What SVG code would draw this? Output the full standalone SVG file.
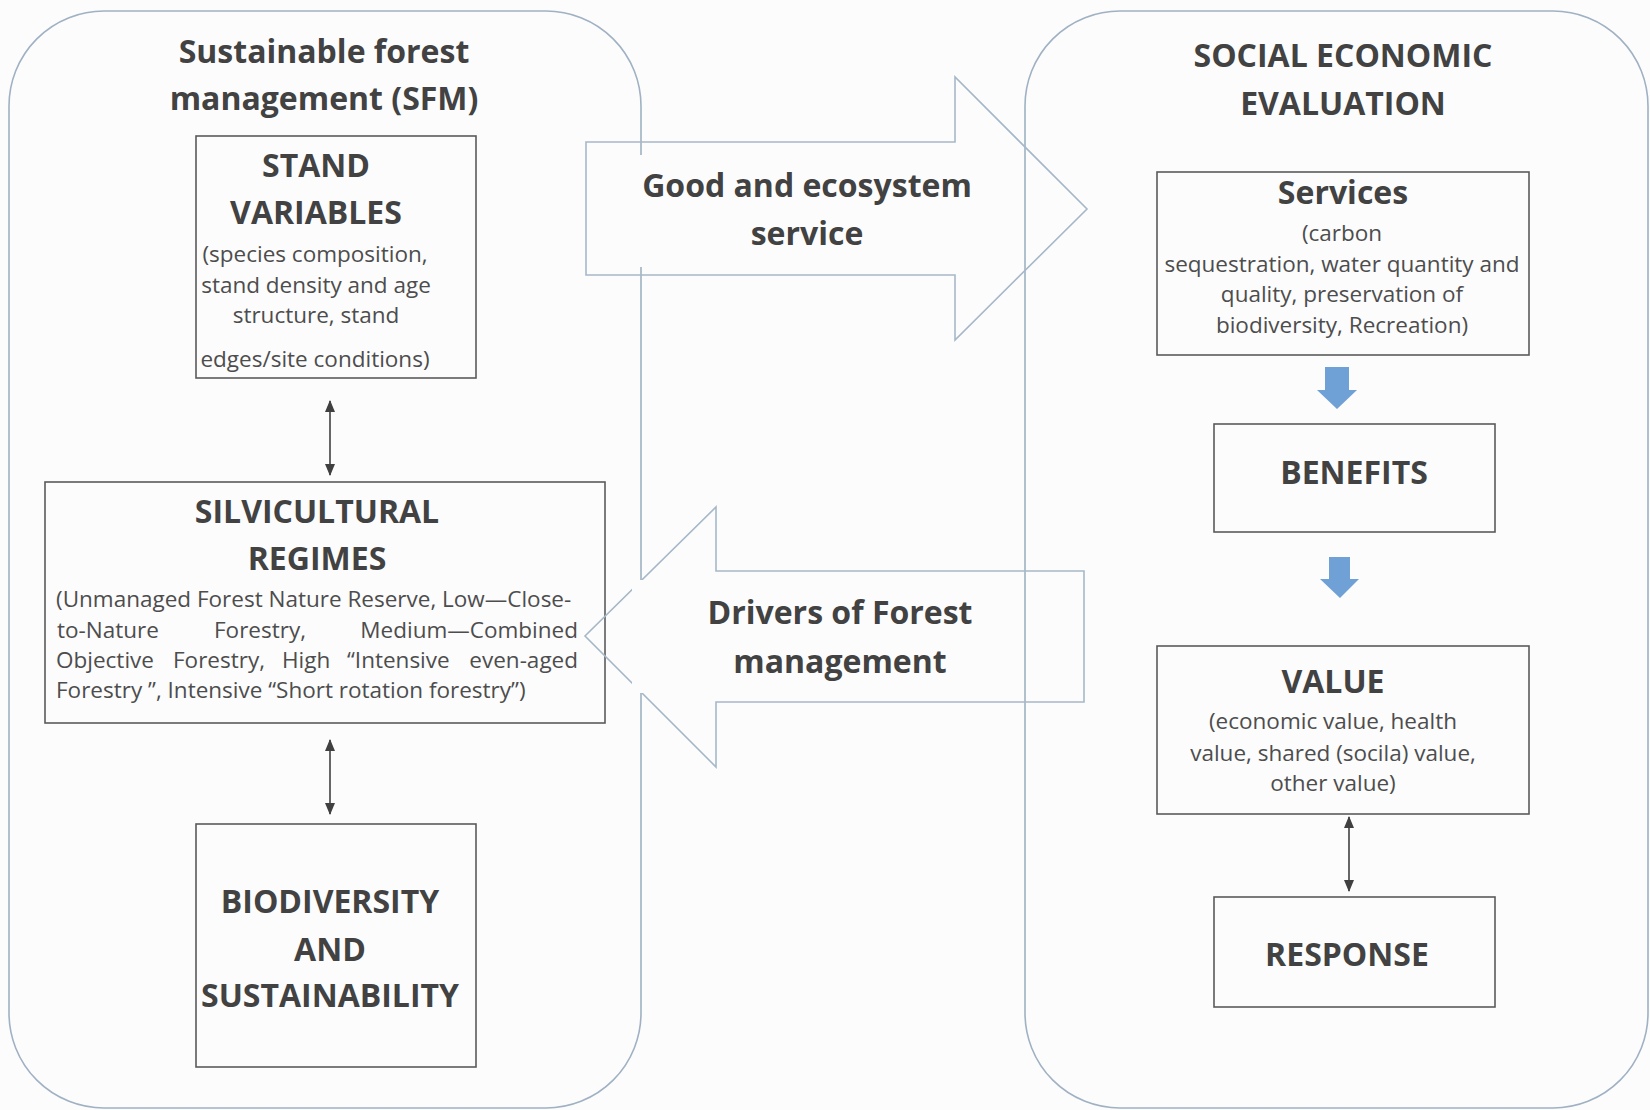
<svg xmlns="http://www.w3.org/2000/svg" width="1650" height="1110" viewBox="0 0 1650 1110">
<defs>
<style>
.cont{fill:none;stroke:#9fb1c2;stroke-width:1.6}
.box{fill:none;stroke:#5a5a5a;stroke-width:1.6}
.bigarrow{fill:none;stroke:#a6b8c8;stroke-width:1.6}
.h{font-family:"Open Sans","Liberation Sans",sans-serif;font-weight:700;font-size:32px;fill:#424242;text-anchor:middle}
.s{font-family:"Open Sans","Liberation Sans",sans-serif;font-size:22.5px;fill:#4d4d4d;text-anchor:middle}
.j{font-family:"Open Sans","Liberation Sans",sans-serif;font-size:22.5px;fill:#4d4d4d}
.dbl{stroke:#404040;stroke-width:1.6;fill:none;marker-start:url(#ah);marker-end:url(#ah)}
.blue{fill:#6fa0d6}
.gap{fill:#fcfcfd}
</style>
<marker id="ah" viewBox="0 0 12 10" refX="11" refY="5" markerWidth="12" markerHeight="10" markerUnits="userSpaceOnUse" orient="auto-start-reverse">
<path d="M0,0 L12,5 L0,10 z" fill="#404040"/>
</marker>
</defs>
<rect width="1650" height="1110" fill="#fcfcfd"/>

<g id="sfm-container">
<rect class="cont" x="9" y="11" width="632" height="1097" rx="95" ry="95"/>
<text class="h"><tspan x="324" y="63">Sustainable forest</tspan><tspan x="324" y="110">management (SFM)</tspan></text>
</g>

<g id="see-container">
<rect class="cont" x="1025" y="11" width="623" height="1097" rx="95" ry="95"/>
<text class="h"><tspan x="1343" y="67">SOCIAL ECONOMIC</tspan><tspan x="1343" y="115">EVALUATION</tspan></text>
</g>

<g id="stand-variables">
<rect class="box" x="196" y="136" width="280" height="242"/>
<text class="h"><tspan x="316" y="177">STAND</tspan><tspan x="316" y="224">VARIABLES</tspan></text>
<text class="s"><tspan x="315" y="262">(species composition,</tspan><tspan x="316" y="293">stand density and age</tspan><tspan x="316" y="323">structure, stand</tspan><tspan x="315" y="367">edges/site conditions)</tspan></text>
</g>

<g id="silvicultural-regimes">
<rect class="box" x="45" y="482" width="560" height="241"/>
<text class="h"><tspan x="317" y="523">SILVICULTURAL</tspan><tspan x="317" y="570">REGIMES</tspan></text>
<text class="j"><tspan x="56" y="607">(Unmanaged Forest Nature Reserve, Low—Close-</tspan></text>
<text class="j"><tspan x="57" y="638">to-Nature</tspan><tspan x="214" y="638">Forestry,</tspan><tspan x="578" y="638" text-anchor="end">Medium—Combined</tspan></text>
<text class="j"><tspan x="56" y="668">Objective</tspan><tspan x="173" y="668">Forestry,</tspan><tspan x="282" y="668">High</tspan><tspan x="347" y="668">“Intensive</tspan><tspan x="578" y="668" text-anchor="end">even-aged</tspan></text>
<text class="j"><tspan x="56" y="698">Forestry ”, Intensive “Short rotation forestry”)</tspan></text>
</g>

<g id="biodiversity">
<rect class="box" x="196" y="824" width="280" height="243"/>
<text class="h"><tspan x="330" y="913">BIODIVERSITY</tspan><tspan x="330" y="961">AND</tspan><tspan x="330" y="1007">SUSTAINABILITY</tspan></text>
</g>

<g id="services">
<rect class="box" x="1157" y="172" width="372" height="183"/>
<text class="h"><tspan x="1343" y="204">Services</tspan></text>
<text class="s"><tspan x="1342" y="241">(carbon</tspan><tspan x="1342" y="272">sequestration, water quantity and</tspan><tspan x="1342" y="302">quality, preservation of</tspan><tspan x="1342" y="333">biodiversity, Recreation)</tspan></text>
</g>

<g id="benefits">
<rect class="box" x="1214" y="424" width="281" height="108"/>
<text class="h" x="1354" y="484">BENEFITS</text>
</g>

<g id="value">
<rect class="box" x="1157" y="646" width="372" height="168"/>
<text class="h" x="1333" y="693">VALUE</text>
<text class="s"><tspan x="1333" y="729">(economic value, health</tspan><tspan x="1333" y="761">value, shared (socila) value,</tspan><tspan x="1333" y="791">other value)</tspan></text>
</g>

<g id="response">
<rect class="box" x="1214" y="897" width="281" height="110"/>
<text class="h" x="1347" y="966">RESPONSE</text>
</g>

<g id="good-ecosystem-service">
<path class="bigarrow" d="M586,142 L955,142 L955,77 L1087,209 L955,340 L955,275 L586,275 Z"/>
<rect class="gap" x="600" y="155" width="400" height="112"/>
<text class="h"><tspan x="807" y="197">Good and ecosystem</tspan><tspan x="807" y="245">service</tspan></text>
</g>

<g id="drivers-forest-management">
<path class="bigarrow" d="M1084,571 L716,571 L716,507 L585,636 L716,767 L716,702 L1084,702 Z"/>
<rect class="gap" x="632" y="580" width="385" height="113"/>
<text class="h"><tspan x="840" y="624">Drivers of Forest</tspan><tspan x="840" y="673">management</tspan></text>
</g>

<g id="connectors">
<line class="dbl" x1="330" y1="401" x2="330" y2="475"/>
<line class="dbl" x1="330" y1="740" x2="330" y2="814"/>
<line class="dbl" x1="1349" y1="817" x2="1349" y2="891"/>
<path class="blue" d="M1325,367 L1349,367 L1349,390 L1357,390 L1337,409 L1317,390 L1325,390 Z"/>
<path class="blue" d="M1329,557 L1350,557 L1350,579 L1359,579 L1340,598 L1320,579 L1329,579 Z"/>
</g>
</svg>
